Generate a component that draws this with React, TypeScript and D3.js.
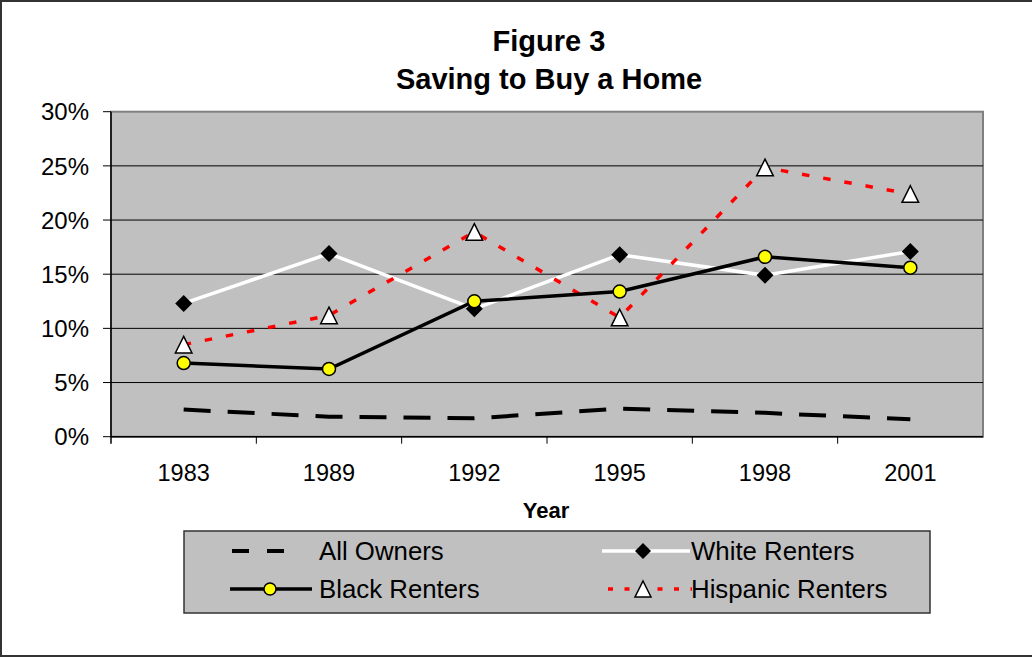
import React from "react";
import * as d3 from "d3";

const years = ["1983", "1989", "1992", "1995", "1998", "2001"];
const allOwners = [2.5, 1.85, 1.7, 2.6, 2.2, 1.6];
const whiteRenters = [12.3, 16.9, 11.8, 16.8, 14.9, 17.1];
const blackRenters = [6.8, 6.25, 12.5, 13.4, 16.6, 15.6];
const hispanicRenters = [8.5, 11.2, 18.9, 11.0, 24.85, 22.4];
const yTicks = [0, 5, 10, 15, 20, 25, 30];

const W = 1032;
const H = 657;
const plot = { left: 111, right: 983, top: 111.7, bottom: 436.7 };

const FONT = "Arial, 'Liberation Sans', Helvetica, sans-serif";

type Pt = [number, number];

export default function App() {
  const x = d3
    .scaleBand<string>()
    .domain(years)
    .range([plot.left, plot.right]);
  const cx = (yr: string) => (x(yr) as number) + x.bandwidth() / 2;
  const y = d3.scaleLinear().domain([0, 30]).range([plot.bottom, plot.top]);

  const line = d3
    .line<Pt>()
    .x((d) => d[0])
    .y((d) => d[1]);
  const pts = (vals: number[]): Pt[] => vals.map((v, i) => [cx(years[i]), y(v)]);

  const diamond = (px: number, py: number, r = 8.5) =>
    `M${px},${py - r}L${px + r},${py}L${px},${py + r}L${px - r},${py}Z`;
  const triangle = (px: number, py: number, s = 8.3) =>
    `M${px},${py - s}L${px + s},${py + s}L${px - s},${py + s}Z`;

  const boundaries = years.slice(1).map((yr) => x(yr) as number);

  return (
    <svg
      width={W}
      height={H}
      style={{ position: "absolute", left: 0, top: 0, background: "#fff" }}
      fontFamily={FONT}
    >
      {/* outer frame */}
      <rect x={1} y={1} width={W + 10} height={H - 2} fill="#fff" stroke="#333" strokeWidth={2} />

      {/* title */}
      <text x={549} y={51} textAnchor="middle" fontSize={29} fontWeight="bold" fill="#000">
        Figure 3
      </text>
      <text x={549} y={89} textAnchor="middle" fontSize={29} fontWeight="bold" fill="#000">
        Saving to Buy a Home
      </text>

      {/* plot area */}
      <rect
        x={plot.left}
        y={plot.top}
        width={plot.right - plot.left}
        height={plot.bottom - plot.top}
        fill="#c0c0c0"
        stroke="#808080"
        strokeWidth={2}
      />

      {/* gridlines */}
      {yTicks
        .filter((t) => t > 0 && t < 30)
        .map((t) => (
          <line key={t} x1={plot.left} x2={plot.right} y1={y(t)} y2={y(t)} stroke="#000" strokeWidth={1} />
        ))}

      {/* axes */}
      <line x1={plot.left} x2={plot.left} y1={plot.top} y2={plot.bottom + 7} stroke="#000" strokeWidth={1.5} />
      <line x1={plot.left} x2={plot.right} y1={plot.bottom} y2={plot.bottom} stroke="#000" strokeWidth={1.5} />
      {yTicks.map((t) => (
        <g key={t}>
          <line x1={plot.left - 8} x2={plot.left} y1={y(t)} y2={y(t)} stroke="#000" strokeWidth={1} />
          <text x={89} y={y(t)} dy="0.36em" textAnchor="end" fontSize={24} fill="#000">
            {t}%
          </text>
        </g>
      ))}
      {boundaries.map((bx, i) => (
        <line key={i} x1={bx} x2={bx} y1={plot.bottom} y2={plot.bottom + 7} stroke="#000" strokeWidth={1} />
      ))}
      {years.map((yr) => (
        <text key={yr} x={cx(yr)} y={473} dy="0.36em" textAnchor="middle" fontSize={23.5} fill="#000">
          {yr}
        </text>
      ))}
      <text x={546} y={518} textAnchor="middle" fontSize={22} fontWeight="bold" fill="#000">
        Year
      </text>

      {/* series */}
      <path d={line(pts(allOwners)) as string} fill="none" stroke="#000" strokeWidth={4} strokeDasharray="27 17" />
      <path d={line(pts(whiteRenters)) as string} fill="none" stroke="#fff" strokeWidth={3.5} />
      <path d={line(pts(hispanicRenters)) as string} fill="none" stroke="#ff0000" strokeWidth={3.5} strokeDasharray="7.5 14" />
      <path d={line(pts(blackRenters)) as string} fill="none" stroke="#000" strokeWidth={3.5} />

      {pts(whiteRenters).map(([px, py], i) => (
        <path key={`w${i}`} d={diamond(px, py)} fill="#000" />
      ))}
      {pts(hispanicRenters).map(([px, py], i) => (
        <path key={`h${i}`} d={triangle(px, py)} fill="#fff" stroke="#000" strokeWidth={1.5} />
      ))}
      {pts(blackRenters).map(([px, py], i) => (
        <circle key={`b${i}`} cx={px} cy={py} r={6.5} fill="#ffff00" stroke="#000" strokeWidth={1.5} />
      ))}

      {/* legend */}
      <rect x={184} y={531} width={746} height={82} fill="#c0c0c0" stroke="#333" strokeWidth={1.5} />
      <g fontSize={25.8} fill="#000">
        <line x1={232} x2={302} y1={551} y2={551} stroke="#000" strokeWidth={4} strokeDasharray="17 18" />
        <text x={319} y={551} dy="0.36em">All Owners</text>

        <line x1={230} x2={312} y1={589} y2={589} stroke="#000" strokeWidth={3.5} />
        <circle cx={270} cy={589} r={6} fill="#ffff00" stroke="#000" strokeWidth={1.5} />
        <text x={319} y={589} dy="0.36em">Black Renters</text>

        <line x1={602} x2={690} y1={551} y2={551} stroke="#fff" strokeWidth={3.5} />
        <path d={diamond(643, 551, 8)} fill="#000" />
        <text x={691} y={551} dy="0.36em">White Renters</text>

        <line x1={608} x2={692} y1={589} y2={589} stroke="#ff0000" strokeWidth={3.5} strokeDasharray="5 11.5" />
        <path d={triangle(643, 589, 8)} fill="#fff" stroke="#000" strokeWidth={1.5} />
        <text x={691} y={589} dy="0.36em">Hispanic Renters</text>
      </g>
    </svg>
  );
}
